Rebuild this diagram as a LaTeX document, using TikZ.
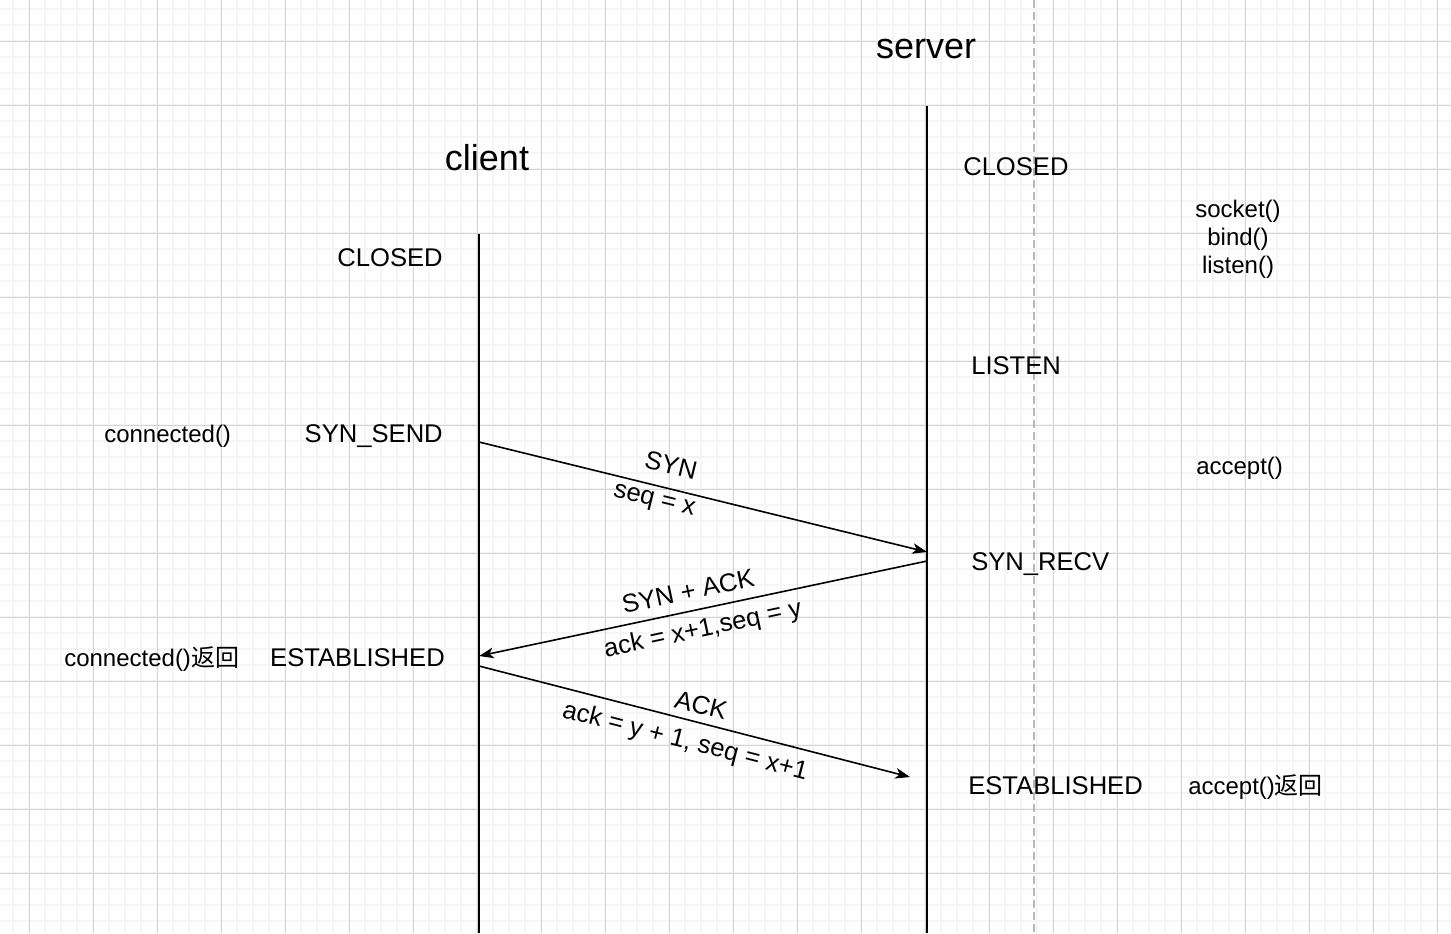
\documentclass[tikz,border=0pt]{standalone}
\usepackage{fontspec}
\setmainfont{Liberation Sans}
\newfontfamily\cjk{Noto Sans CJK SC}
\usepackage{tikz}
\usetikzlibrary{arrows.meta}
\usetikzlibrary{positioning}

\tikzset{
  life/.style = {line width = 1.2pt},
  msg/.style = {line width = 1.2pt, -{Stealth[length = 11pt, width = 8pt, inset = 3pt]}},
  role/.style = {font = \fontsize{27}{32}\selectfont, inner sep = 0pt},
  state/.style = {font = \fontsize{19.2}{23}\selectfont, inner sep = 0pt},
  call/.style = {font = \fontsize{18}{21}\selectfont, inner sep = 0pt, align = center},
  lbl/.style = {font = \fontsize{19.2}{23}\selectfont, inner sep = 0pt}
}

\begin{document}
\begin{tikzpicture}[x = 0.75pt, y = -0.75pt]
\useasboundingbox (0,0) rectangle (1451,933);
% grid
\foreach \x in {13, 29, ..., 1451}{
\draw[black!4, line width = 1.1pt] (\x,0) -- (\x,933);}
\foreach \y in {9, 25, ..., 933}{
\draw[black!4, line width = 1.1pt] (0,\y) -- (1451,\y);}
\foreach \x in {29, 93, ..., 1451}{
\draw[black!17, line width = 0.75pt] (\x,0) -- (\x,933);}
\foreach \y in {41, 105, ..., 933}{
\draw[black!17, line width = 0.75pt] (0,\y) -- (1451,\y);}
\draw[black!28, line width = 1.5pt, dash pattern = on 6pt off 3pt] (1034,0) -- (1034,933);

% lifelines
\coordinate (ctop) at (479,234);
\coordinate (cbot) at (479,933);
\coordinate (stop) at (927,106);
\coordinate (sbot) at (927,933);
\draw[life] (ctop) -- (cbot);
\draw[life] (stop) -- (sbot);

\node[role, anchor = base] (server) at (926,58) {server};
\node[role, anchor = base] (client) at (487,170) {client};

% client side
\node[state, anchor = base east] (cclosed) at (443,266) {CLOSED};
\node[state, anchor = base east] (csend) at (443,442) {SYN\_SEND};
\node[state, anchor = base east] (cest) at (445,666) {ESTABLISHED};
\node[call, anchor = base west] (conn) at (104,442) {connected()};
\node[call, anchor = base west] (connret) at (64,666) {connected()\cjk 返回};

% server side
\node[state, anchor = base west] (sclosed) at (963,175) {CLOSED};
\node[state, anchor = base west] (slisten) at (971,374) {LISTEN};
\node[state, anchor = base west] (srecv) at (971,570) {SYN\_RECV};
\node[state, anchor = base west] (sest) at (968,794) {ESTABLISHED};
\node[call, anchor = base] (sock) at (1238,217) {socket()};
\node[call, anchor = base] (bind) at (1238,245) {bind()};
\node[call, anchor = base] (listen) at (1238,273) {listen()};
\node[call, anchor = base west] (acc) at (1196,474) {accept()};
\node[call, anchor = base west] (accret) at (1188,794) {accept()\cjk 返回};

% handshake
\coordinate (c1) at (479,442);
\coordinate (s1) at (927,552);
\coordinate (s2) at (927,561);
\coordinate (c2) at (479,656);
\coordinate (c3) at (479,666);
\coordinate (s3) at (910,777);
\draw[msg] (c1) -- (s1);
\draw[msg] (s2) -- (c2);
\draw[msg] (c3) -- (s3);

\node[lbl, rotate = -13.8] (syn) at (671,465) {SYN};
\node[lbl, rotate = -13.8] (synseq) at (654,502) {seq = x};
\node[lbl, rotate = 12] (synack) at (688,591) {SYN + ACK};
\node[lbl, rotate = 12] (synackseq) at (703,630) {ack = x+1,seq = y};
\node[lbl, rotate = -14.4] (ack) at (701,705) {ACK};
\node[lbl, rotate = -14.4] (ackseq) at (685,742) {ack = y + 1, seq = x+1};
\end{tikzpicture}
\end{document}
